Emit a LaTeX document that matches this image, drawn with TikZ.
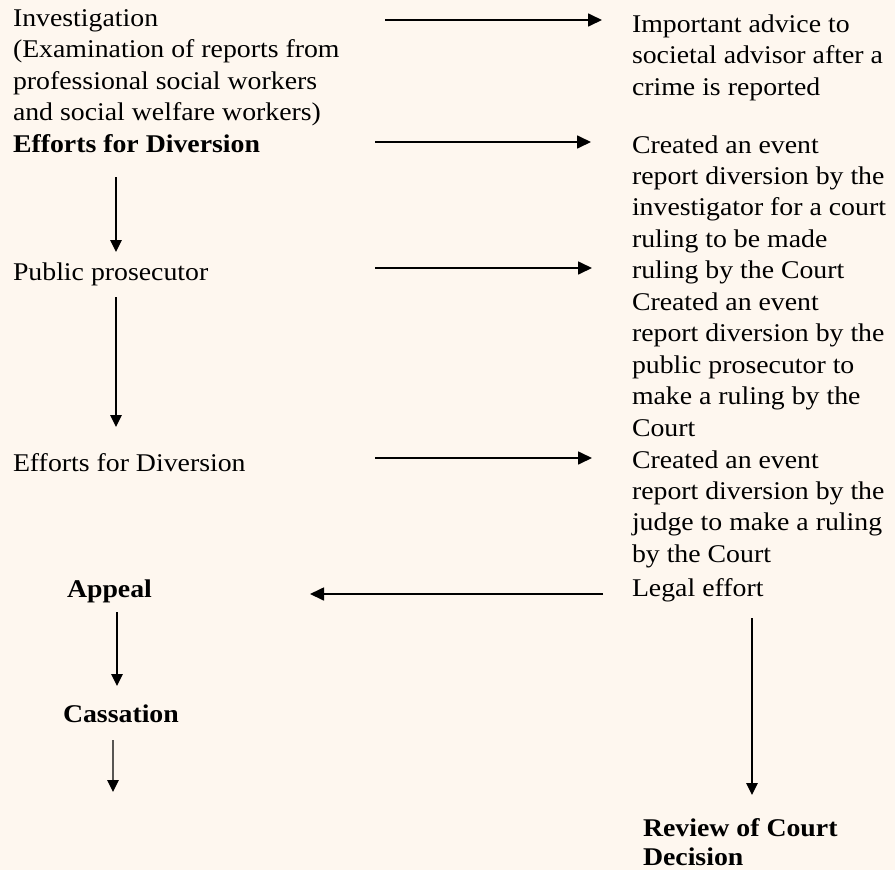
\documentclass[tikz,border=0pt]{standalone}
\usepackage{fontspec}
\setmainfont{Liberation Serif}[FakeStretch=1.09]
\usetikzlibrary{arrows.meta}
\definecolor{bgcream}{RGB}{254,247,239}
\newcommand\mystrut{\rule{0pt}{20bp}}
\tikzset{
  txt/.style={anchor=north west, align=left, inner sep=0pt, outer sep=0pt,
    font=\fontsize{25.6}{31.6}\selectfont},
  btxt/.style={txt, font=\fontsize{25.6}{29.6}\selectfont\bfseries},
  harr/.style={-{Triangle[length=14bp,width=13bp]}, line width=1.7bp},
  varr/.style={-{Triangle[length=12bp,width=11.5bp]}, line width=1.3bp}
}
\begin{document}
\begin{tikzpicture}[x=1bp,y=-1bp]
\fill[bgcream] (0,0) rectangle (895,870);
\useasboundingbox (0,0) rectangle (895,870);
% left column
\node[txt]  (inv)  at (13,6.5)  {\mystrut Investigation\\(Examination of reports from\\professional social workers\\and social welfare workers)};
\node[btxt] (eff1) at (13,132)  {\mystrut Efforts for Diversion};
\node[txt]  (pp)   at (13,260.5) {\mystrut Public prosecutor};
\node[txt]  (eff2) at (13,451)  {\mystrut Efforts for Diversion};
\node[btxt] (appeal) at (67,577) {\mystrut Appeal};
\node[btxt] (cass) at (63,702)  {\mystrut Cassation};
% right column
\node[txt]  (adv)  at (632,12.5) {\mystrut Important advice to\\societal advisor after a\\crime is reported};
\node[txt]  (cr1)  at (632,133)  {\mystrut Created an event\\report diversion by the\\investigator for a court\\ruling to be made\\ruling by the Court};
\node[txt]  (cr2)  at (632,290.5) {\mystrut Created an event\\report diversion by the\\public prosecutor to\\make a ruling by the\\Court};
\node[txt]  (cr3)  at (632,448)  {\mystrut Created an event\\report diversion by the\\judge to make a ruling\\by the Court};
\node[txt]  (legal) at (632,576.5) {\mystrut Legal effort};
\node[btxt] (review) at (643,816) {\mystrut Review of Court\\Decision};
\coordinate (cassend) at (113,792);
% horizontal arrows
\draw[harr] ([xshift=372bp,yshift=-13.5bp]inv.north west) -- ([xshift=-30bp,yshift=-13.5bp]inv.north west -| adv.west);
\draw[harr] ([xshift=362bp,yshift=-10bp]eff1.north west) -- ([xshift=-41bp,yshift=-10bp]eff1.north west -| cr1.west);
\draw[harr] ([xshift=362bp,yshift=-7.5bp]pp.north west) -- ([xshift=-40bp,yshift=-7.5bp]pp.north west -| cr1.west);
\draw[harr] ([xshift=362bp,yshift=-7bp]eff2.north west) -- ([xshift=-40bp,yshift=-7bp]eff2.north west -| cr3.west);
\draw[harr] ([xshift=-29bp,yshift=-17.5bp]legal.north west) -- ([xshift=243bp,yshift=-17.5bp]legal.north west -| appeal.west);
% vertical arrows
\draw[varr] ([xshift=103bp,yshift=-45bp]eff1.north west) -- ([xshift=103bp,yshift=8.5bp]eff1.north west |- pp.north);
\draw[varr] ([xshift=103bp,yshift=-36.5bp]pp.north west) -- ([xshift=103bp,yshift=24bp]pp.north west |- eff2.north);
\draw[varr] ([xshift=50bp,yshift=-35bp]appeal.north west) -- ([xshift=50bp,yshift=16bp]appeal.north west |- cass.north);
\draw[varr] ([xshift=50bp,yshift=-38bp]cass.north west) -- (cassend);
\draw[varr] ([xshift=120bp,yshift=-41.5bp]legal.north west) -- ([xshift=120bp,yshift=21bp]legal.north west |- review.north);
\end{tikzpicture}
\end{document}
